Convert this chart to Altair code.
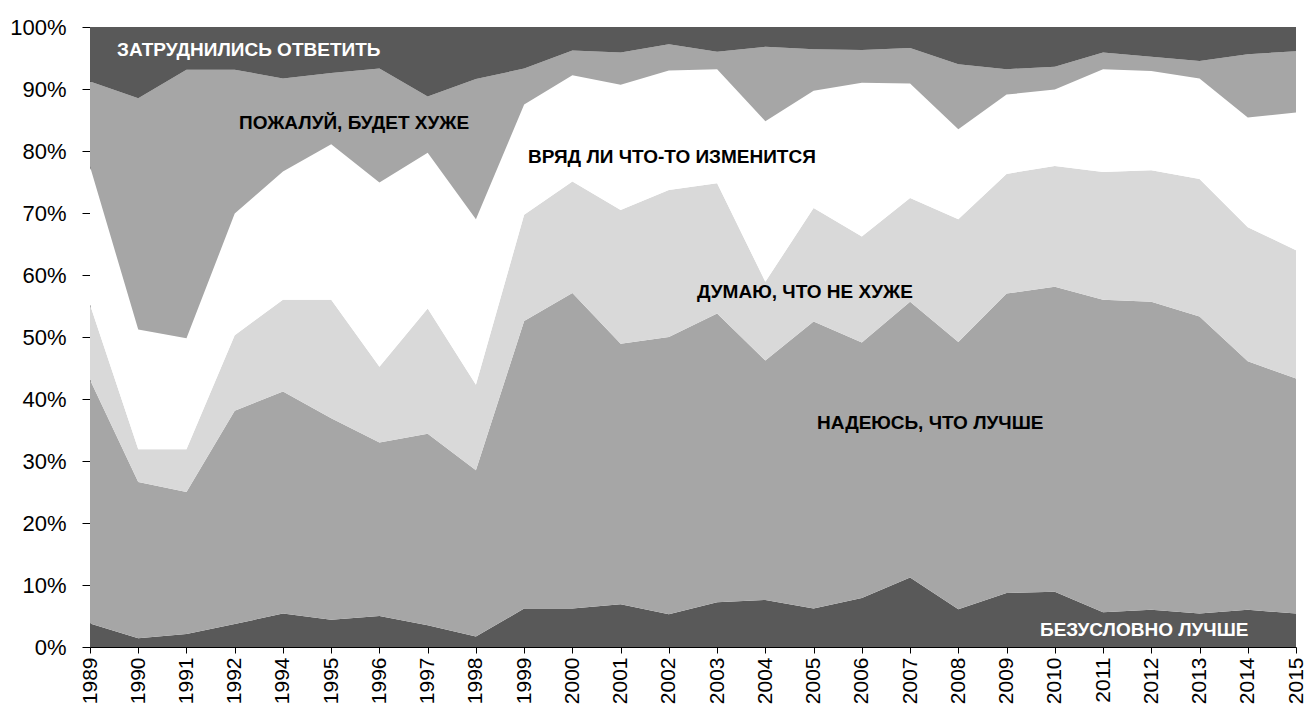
import altair as alt
import pandas as pd

years = ["1989", "1990", "1991", "1992", "1994", "1995", "1996", "1997", "1998", "1999",
         "2000", "2001", "2002", "2003", "2004", "2005", "2006", "2007", "2008", "2009",
         "2010", "2011", "2012", "2013", "2014", "2015"]

series_names = ["БЕЗУСЛОВНО ЛУЧШЕ", "НАДЕЮСЬ, ЧТО ЛУЧШЕ", "ДУМАЮ, ЧТО НЕ ХУЖЕ",
                "ВРЯД ЛИ ЧТО-ТО ИЗМЕНИТСЯ", "ПОЖАЛУЙ, БУДЕТ ХУЖЕ", "ЗАТРУДНИЛИСЬ ОТВЕТИТЬ"]

definitely_better = [3.8, 1.4, 2.1, 3.7, 5.4, 4.4, 5.0, 3.5, 1.7, 6.2, 6.2, 6.9, 5.3, 7.2, 7.6,
                     6.2, 7.9, 11.2, 6.1, 8.7, 8.9, 5.6, 6.0, 5.4, 6.0, 5.4]
hope_better = [39.3, 25.2, 22.9, 34.4, 35.8, 32.5, 28.0, 30.9, 26.8, 46.4, 50.9, 42.0, 44.7, 46.6,
               38.6, 46.3, 41.2, 44.5, 43.1, 48.3, 49.2, 50.4, 49.7, 47.9, 40.1, 37.9]
not_worse = [12.1, 5.3, 6.9, 12.2, 14.8, 19.1, 12.2, 20.2, 13.8, 17.1, 18.0, 21.6, 23.7, 21.0,
             12.7, 18.3, 17.1, 16.7, 19.8, 19.3, 19.5, 20.6, 21.2, 22.2, 21.6, 20.7]
no_change = [22.3, 19.3, 17.9, 19.6, 20.7, 25.1, 29.7, 25.1, 26.7, 17.8, 17.1, 20.2, 19.3, 18.4,
             25.9, 18.9, 24.8, 18.5, 14.5, 12.8, 12.3, 16.6, 16.0, 16.2, 17.7, 22.2]
worse = [13.7, 37.3, 43.3, 23.2, 15.0, 11.5, 18.4, 9.1, 22.6, 5.8, 4.0, 5.2, 4.2, 2.8, 12.0,
         6.7, 5.3, 5.7, 10.5, 4.1, 3.7, 2.7, 2.3, 2.8, 10.2, 9.9]
hard_to_say = [8.8, 11.5, 6.9, 6.9, 8.3, 7.4, 6.7, 11.2, 8.4, 6.7, 3.8, 4.1, 2.8, 4.0, 3.2,
               3.6, 3.7, 3.4, 6.0, 6.8, 6.4, 4.1, 4.8, 5.5, 4.4, 3.9]

colors = ["#595959", "#a6a6a6", "#d9d9d9", "#ffffff", "#a6a6a6", "#595959"]

all_series = [definitely_better, hope_better, not_worse, no_change, worse, hard_to_say]
rows = []
for i, (name, vals) in enumerate(zip(series_names, all_series)):
    for y, v in zip(years, vals):
        rows.append({"year": y, "series": name, "value": v, "idx": i})
df = pd.DataFrame(rows)

FONT = "Liberation Sans"

area = alt.Chart(df).mark_area(strokeWidth=0).encode(
    x=alt.X("year:O", sort=years, scale=alt.Scale(type="point", padding=0),
            axis=alt.Axis(title=None, labelAngle=-90, labelFontSize=21, labelFont=FONT,
                          labelColor="black", tickColor="black", domainColor="black",
                          tickSize=6, labelPadding=4, grid=False, labelOverlap=False)),
    y=alt.Y("value:Q", stack="normalize", scale=alt.Scale(domain=[0, 1], nice=False),
            axis=alt.Axis(title=None, format=".0%", values=[i / 10 for i in range(11)],
                          labelFontSize=22, labelFont=FONT, labelColor="black",
                          tickColor="black", domainColor="black", tickSize=8,
                          labelPadding=16, grid=False)),
    color=alt.Color("series:N", scale=alt.Scale(domain=series_names, range=colors), legend=None),
    order=alt.Order("idx:Q"),
)

labels = [
    ("ЗАТРУДНИЛИСЬ ОТВЕТИТЬ", 27, 23, "white"),
    ("ПОЖАЛУЙ, БУДЕТ ХУЖЕ", 149, 96, "black"),
    ("ВРЯД  ЛИ ЧТО-ТО ИЗМЕНИТСЯ", 438, 130, "black"),
    ("ДУМАЮ, ЧТО НЕ ХУЖЕ", 607, 265, "black"),
    ("НАДЕЮСЬ, ЧТО ЛУЧШЕ", 727, 396, "black"),
    ("БЕЗУСЛОВНО ЛУЧШЕ", 950, 603, "white"),
]

layers = [area]
for text, px, py, col in labels:
    layers.append(
        alt.Chart(pd.DataFrame({"t": [text]})).mark_text(
            align="left", baseline="middle", font=FONT, fontSize=19, fontWeight="bold", color=col
        ).encode(x=alt.value(px), y=alt.value(py), text="t:N")
    )

chart = alt.layer(*layers).properties(
    width=1206, height=620,
    autosize=alt.AutoSizeParams(type="none"),
    padding={"left": 82, "top": 19, "right": 10, "bottom": 58},
).configure_view(strokeWidth=0)

chart.save("out.html", embed_options={"renderer": "svg", "actions": False})
